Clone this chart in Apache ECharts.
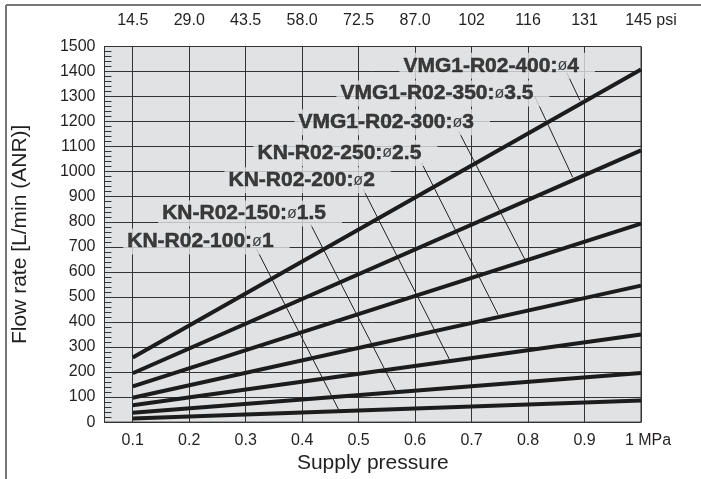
<!DOCTYPE html>
<html><head><meta charset="utf-8">
<script src="https://cdn.jsdelivr.net/npm/echarts@6/dist/echarts.min.js"></script>
<style>html,body{margin:0;padding:0;background:#fff}#c{width:701px;height:479px}</style>
</head><body><div id="c"></div>
<script>
// ---------- data ----------
const pressureTicks = [0.1, 0.2, 0.3, 0.4, 0.5, 0.6, 0.7, 0.8, 0.9, 1.0];
const bottomLabels = ['0.1','0.2','0.3','0.4','0.5','0.6','0.7','0.8','0.9','1 MPa'];
const topLabels = ['14.5','29.0','43.5','58.0','72.5','87.0','102','116','131','145 psi'];
const seriesNames = ['KN-R02-100:ø1','KN-R02-150:ø1.5','KN-R02-200:ø2','KN-R02-250:ø2.5',
                     'VMG1-R02-300:ø3','VMG1-R02-350:ø3.5','VMG1-R02-400:ø4'];
const pressureEnds = [0.1, 1.0];
const flowAtStart = [14, 37, 67, 97, 143, 195, 258];
const flowAtEnd   = [86, 196, 350, 545, 793, 1085, 1408];
const yMin = 0, yMax = 1500, yStep = 100;

// ---------- annotation placement (data coordinates) ----------
const labelAnchorP = [0.0823, 0.1442, 0.2616, 0.3129, 0.3855, 0.4598, 0.5713];
const labelAnchorF = [721, 833, 966, 1075, 1197, 1312, 1423];
const leaderStartP = [0.3195, 0.415, 0.508, 0.6115, 0.6775, 0.812, 0.8686];
const leaderStartF = [690, 790, 930, 1035, 1160, 1300, 1395];
const leaderEndP   = [0.465, 0.566, 0.662, 0.747, 0.794, 0.879, 0.892];
const leaderEndF   = [48, 123, 245, 429, 651, 978, 1284];

const FONT = '"Liberation Sans", Arial, Helvetica, sans-serif';
const TXT = '#231f20';
const LBL = '#111';

const chart = echarts.init(document.getElementById('c'), null, {renderer: 'canvas'});

const lineSeries = seriesNames.map((n, i) => ({
  type: 'line', name: n, silent: true, symbol: 'none', z: 3,
  data: [[pressureEnds[0], flowAtStart[i]], [pressureEnds[1], flowAtEnd[i]]],
  lineStyle: {color: '#1c1c1c', width: 4}
}));
const leaderSeries = seriesNames.map((n, i) => ({
  type: 'line', silent: true, symbol: 'none', z: 4,
  data: [[leaderStartP[i], leaderStartF[i]], [leaderEndP[i], leaderEndF[i]]],
  lineStyle: {color: '#222', width: 1}
}));
const labelSeries = {
  type: 'scatter', silent: true, symbolSize: 1, z: 6,
  itemStyle: {color: 'rgba(0,0,0,0)'},
  data: seriesNames.map((n, i) => ({name: n, value: [labelAnchorP[i], labelAnchorF[i]]})),
  label: {
    show: true, position: 'right', distance: 0, color: LBL,
    backgroundColor: '#e1e2e4', padding: [1, 16, 1, 4],
    formatter: p => { const parts = p.name.split('ø'); return '{b|' + parts[0] + '}{o|ø}{b|' + parts[1] + '}'; },
    rich: {
      b: {fontFamily: FONT, fontWeight: 'bold', fontSize: 21, color: LBL, lineHeight: 24,
          textBorderColor: LBL, textBorderWidth: 0.5},
      o: {fontFamily: FONT, fontWeight: 'normal', fontSize: 16, color: LBL, lineHeight: 24}
    }
  }
};

const option = {
  animation: false,
  backgroundColor: '#fff',
  grid: {left: 104.5, right: 60, top: 46.5, bottom: 56.5, show: true,
         backgroundColor: '#e1e2e4', borderColor: '#333', borderWidth: 1},
  xAxis: [{
    type: 'value', min: 0.05, max: 1.0, position: 'bottom',
    axisLine: {show: true, lineStyle: {color: '#333', width: 1}},
    axisTick: {show: false, customValues: pressureTicks},
    splitLine: {show: true, lineStyle: {color: '#333', width: 1}},
    axisLabel: {
      customValues: pressureTicks, margin: 10,
      fontFamily: FONT, fontSize: 16, color: TXT,
      formatter: v => {
        const i = pressureTicks.findIndex(t => Math.abs(t - v) < 1e-6);
        const s = i >= 0 ? bottomLabels[i] : '';
        return s.indexOf(' ') > 0 ? '{sp|}' + s : s;
      },
      rich: {sp: {width: 14}}
    },
    name: 'Supply pressure', nameLocation: 'middle', nameGap: 30,
    nameTextStyle: {fontFamily: FONT, fontSize: 21, color: TXT}
  }, {
    type: 'value', min: 0.05, max: 1.0, position: 'top',
    axisLine: {show: false}, axisTick: {show: false}, splitLine: {show: false},
    axisLabel: {
      customValues: pressureTicks, margin: 18,
      fontFamily: FONT, fontSize: 16, color: TXT,
      formatter: v => {
        const i = pressureTicks.findIndex(t => Math.abs(t - v) < 1e-6);
        const s = i >= 0 ? topLabels[i] : '';
        return s.indexOf(' ') > 0 ? '{sp|}' + s : s;
      },
      rich: {sp: {width: 20}}
    }
  }],
  yAxis: {
    type: 'value', min: yMin, max: yMax, interval: yStep,
    axisLine: {show: true, lineStyle: {color: '#333', width: 1}},
    axisTick: {show: true, inside: true, length: 7, lineStyle: {color: '#333', width: 1}},
    minorTick: {show: true, splitNumber: 5, length: 7, lineStyle: {color: '#333', width: 1}},
    splitLine: {show: true, lineStyle: {color: '#333', width: 1}},
    axisLabel: {margin: 9, fontFamily: FONT, fontSize: 16, color: TXT, formatter: v => String(v)},
    name: 'Flow rate [L/min (ANR)]', nameLocation: 'middle', nameGap: 74,
    nameTextStyle: {fontFamily: FONT, fontSize: 21, color: TXT}
  },
  graphic: [
    {type: 'line', shape: {x1: 6, y1: 5, x2: 701, y2: 5}, style: {stroke: '#777', lineWidth: 2}, silent: true},
    {type: 'line', shape: {x1: 6, y1: 5, x2: 6, y2: 479}, style: {stroke: '#777', lineWidth: 2}, silent: true}
  ],
  series: [...lineSeries, ...leaderSeries, labelSeries]
};
chart.setOption(option);
</script></body></html>
